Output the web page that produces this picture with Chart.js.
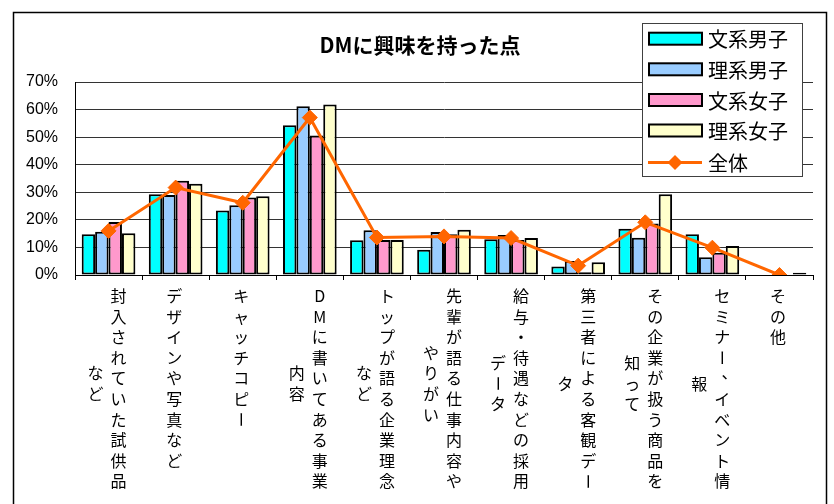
<!DOCTYPE html>
<html><head><meta charset="utf-8">
<script src="https://cdn.jsdelivr.net/npm/chart.js@4.4.0/dist/chart.umd.min.js"></script>
<style>html,body{margin:0;padding:0;background:#fff;}canvas{display:block;}</style>
</head><body>
<canvas id="c" width="834" height="504"></canvas>
<script>
// ---- data ----
const chartTitle = "DMに興味を持った点";
const categories = [
  ["封入されていた試供品", "など"],
  ["デザインや写真など"],
  ["キャッチコピー"],
  ["DMに書いてある事業", "内容"],
  ["トップが語る企業理念", "など"],
  ["先輩が語る仕事内容や", "やりがい"],
  ["給与・待遇などの採用", "データ"],
  ["第三者による客観デー", "タ"],
  ["その企業が扱う商品を", "知って"],
  ["セミナー、イベント情", "報"],
  ["その他"]
];
const seriesNames = ["文系男子", "理系男子", "文系女子", "理系女子", "全体"];
const bunkeiDanshi = [14.8, 29.3, 23.4, 54.3, 12.6, 9.2, 13.0, 3.1, 16.8, 14.8, 0];
const rikeiDanshi  = [15.7, 29.0, 25.3, 61.2, 16.2, 15.6, 14.5, 5.1, 13.5, 6.4, 0];
const bunkeiJoshi  = [19.2, 34.2, 28.1, 50.6, 12.7, 14.8, 12.7, 1.0, 18.7, 8.1, 0];
const rikeiJoshi   = [15.1, 33.1, 28.6, 61.8, 12.7, 16.4, 13.4, 4.6, 29.3, 10.5, 0.8];
const zentai       = [16.0, 31.7, 26.2, 57.1, 13.6, 14.0, 13.4, 3.4, 19.1, 9.9, 0];
const yTickValues = [0, 10, 20, 30, 40, 50, 60, 70];
const yTickLabels = ["0%", "10%", "20%", "30%", "40%", "50%", "60%", "70%"];

const barColors = ["#00FFFF", "#99CCFF", "#FF99CC", "#FFFFCC"];
const lineColor = "#FF6600";
const jpFont = '"Noto Sans CJK JP", "Noto Sans CJK SC", sans-serif';

const barSeries = [bunkeiDanshi, rikeiDanshi, bunkeiJoshi, rikeiJoshi];
const datasets = barSeries.map((d, i) => ({
  type: 'bar',
  label: seriesNames[i],
  data: d,
  backgroundColor: barColors[i],
  borderColor: '#000',
  borderWidth: 2,
  borderSkipped: false,
  categoryPercentage: 0.8,
  barPercentage: 1.0,
  order: 1
}));
datasets.push({
  type: 'line',
  label: seriesNames[4],
  data: zentai,
  borderColor: lineColor,
  backgroundColor: lineColor,
  borderWidth: 3,
  pointStyle: 'rectRot',
  pointRadius: 7.5,
  pointBorderWidth: 1,
  pointBackgroundColor: lineColor,
  pointBorderColor: lineColor,
  tension: 0,
  fill: false,
  order: -1
});

const framePlugin = {
  id: 'frame',
  beforeDraw(chart) {
    const ctx = chart.ctx;
    ctx.save();
    ctx.fillStyle = '#fff';
    ctx.fillRect(0, 0, chart.width, chart.height);
    ctx.strokeStyle = '#000';
    ctx.lineWidth = 1.5;
    ctx.strokeRect(13.5, 12.5, 813, 520);
    ctx.restore();
  },
  afterDraw(chart) {
    const ctx = chart.ctx;
    ctx.save();
    // title
    ctx.fillStyle = '#000';
    ctx.font = 'bold 21px ' + jpFont;
    ctx.textAlign = 'center';
    ctx.textBaseline = 'middle';
    ctx.fillText(chartTitle, 420, 45);

    // vertical category labels
    const xs = chart.scales.x;
    const fs = 16, pitch = 20.6, colGap = 23, y0 = 296;
    ctx.font = fs + 'px ' + jpFont;
    categories.forEach((cols, i) => {
      const cx = xs.getPixelForValue(i) - 1.5;
      const n = cols.length;
      const firstLen = Array.from(cols[0]).length;
      cols.forEach((col, j) => {
        const chars = Array.from(col);
        const x = cx + ((n - 1) / 2 - j) * colGap;
        const off = j === 0 ? 0 : (firstLen - chars.length) / 2 - 0.25;
        chars.forEach((ch, k) => {
          const y = y0 + (off + k) * pitch;
          if (ch === 'ー') {
            ctx.save();
            ctx.translate(x, y);
            ctx.rotate(Math.PI / 2);
            ctx.fillText(ch, 0, 0);
            ctx.restore();
          } else if (ch === '、') {
            ctx.fillText(ch, x + fs * 0.45, y - fs * 0.4);
          } else {
            ctx.fillText(ch, x, y);
          }
        });
      });
    });

    // legend
    const lx = 642.5, ly = 23.5, lw = 160, lh = 153;
    ctx.fillStyle = '#fff';
    ctx.fillRect(lx, ly, lw, lh);
    ctx.strokeStyle = '#404040';
    ctx.lineWidth = 1;
    ctx.strokeRect(lx, ly, lw, lh);
    const rows = [38.7, 69.3, 100, 130.5, 162.5];
    ctx.font = '20px ' + jpFont;
    ctx.textAlign = 'left';
    chart.data.datasets.forEach((ds, i) => {
      const ry = rows[i];
      if (ds.type === 'bar') {
        ctx.fillStyle = ds.backgroundColor;
        ctx.fillRect(649, ry - 6, 53, 12);
        ctx.strokeStyle = '#000';
        ctx.lineWidth = 2;
        ctx.strokeRect(649, ry - 6, 53, 12);
      } else {
        ctx.strokeStyle = ds.borderColor;
        ctx.lineWidth = 3;
        ctx.beginPath();
        ctx.moveTo(648, ry);
        ctx.lineTo(702, ry);
        ctx.stroke();
        ctx.fillStyle = ds.borderColor;
        ctx.beginPath();
        ctx.moveTo(675 - 7.5, ry);
        ctx.lineTo(675, ry - 7.5);
        ctx.lineTo(675 + 7.5, ry);
        ctx.lineTo(675, ry + 7.5);
        ctx.closePath();
        ctx.fill();
      }
      ctx.fillStyle = '#000';
      ctx.textBaseline = 'middle';
      ctx.fillText(ds.label, 708, ry + 1);
    });
    ctx.restore();
  }
};

new Chart(document.getElementById('c'), {
  type: 'bar',
  data: { labels: categories.map(c => c.join('')), datasets },
  options: {
    responsive: false,
    animation: false,
    devicePixelRatio: 1,
    layout: { padding: { left: 0, right: 21, top: 82, bottom: 0 } },
    plugins: { legend: { display: false }, title: { display: false }, tooltip: { enabled: false } },
    scales: {
      x: {
        offset: true,
        grid: { display: true, offset: true, drawOnChartArea: false, drawTicks: true, tickLength: 5, color: '#000' },
        border: { display: true, color: '#000', width: 1 },
        ticks: { display: false },
        afterFit(s) { s.height = 229; }
      },
      y: {
        min: 0, max: 70,
        afterBuildTicks(s) { s.ticks = yTickValues.map(v => ({ value: v })); },
        ticks: {
          padding: 17, color: '#000',
          font: { family: '"Liberation Sans", Arial, sans-serif', size: 16 },
          callback: (v) => yTickLabels[yTickValues.indexOf(v)]
        },
        grid: { color: '#333', drawTicks: false, lineWidth: 1 },
        border: { display: true, color: '#000', width: 1 },
        afterFit(s) { s.width = 75; }
      }
    }
  },
  plugins: [framePlugin]
});
</script>
</body></html>
